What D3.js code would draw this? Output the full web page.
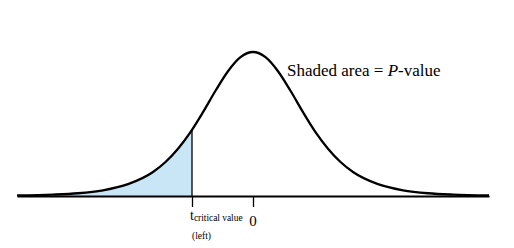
<!DOCTYPE html>
<html>
<head>
<meta charset="utf-8">
<script src="https://cdn.jsdelivr.net/npm/d3@7"></script>
<style>
  body { margin: 0; background: #fff; }
  svg { display: block; }
</style>
</head>
<body>
<div id="chart"></div>
<script>
// curve (t in sd units, density)
const tValues = [-4.72, -4, -3.5, -3, -2.5, -2, -1.75, -1.5, -1.25, -1, -0.75, -0.5, -0.25, 0,
                 0.25, 0.5, 0.75, 1, 1.25, 1.5, 1.75, 2, 2.5, 3, 3.5, 4, 4.72]
const density = [0.0015, 0.0038, 0.0075, 0.0155, 0.032, 0.065, 0.092, 0.128, 0.173, 0.227, 0.285, 0.338, 0.376, 0.39,
                 0.376, 0.338, 0.285, 0.227, 0.173, 0.128, 0.092, 0.065, 0.032, 0.0155, 0.0075, 0.0038, 0.0015]
const tCritical = -1.22
const densityAtCritical = 0.179
const tickValues = [tCritical, 0]
const annotation = ["Shaded area = ", "P", "-value"]

const serif = '"Liberation Serif", "Times New Roman", "DejaVu Serif", serif'
const width = 514, height = 248
const margin = ({ top: 52, right: 25, bottom: 52, left: 17 })

const curve = tValues.map((t, i) => ({ t: t, d: density[i] }))

const svg = d3.select('#chart')
    .append('svg')
    .attr('width', width)
    .attr('height', height)
    .attr('font-family', serif)

const x = d3.scaleLinear()
    .domain([-4.72, 4.72])
    .range([margin.left, width - margin.right])

const y = d3.scaleLinear()
    .domain([0, 0.39])
    .range([height - margin.bottom, margin.top])

// shaded left tail
const tail = curve.filter(d => d.t < tCritical)
    .concat([{ t: tCritical, d: densityAtCritical }])

svg.append('path')
    .datum(tail)
    .attr('fill', '#c8e6f6')
    .attr('d', d3.area()
        .x(d => x(d.t))
        .y0(y(0))
        .y1(d => y(d.d))
        .curve(d3.curveMonotoneX))

// axis with two ticks
const xAxis = g => g
    .attr('transform', `translate(0,${y(0)})`)
    .call(d3.axisBottom(x).tickValues(tickValues).tickSizeInner(11).tickSizeOuter(0).tickFormat(''))
    .call(g => g.select('.domain').attr('stroke-width', 2))
    .call(g => g.selectAll('.tick line').attr('stroke-width', 1.3))

svg.append('g')
    .call(xAxis)

// critical value line
svg.append('line')
    .attr('x1', x(tCritical))
    .attr('x2', x(tCritical))
    .attr('y1', y(0))
    .attr('y2', y(densityAtCritical))
    .attr('stroke', 'black')
    .attr('stroke-width', 1.3)

// the density curve
svg.append('path')
    .datum(curve)
    .attr('fill', 'none')
    .attr('stroke', 'black')
    .attr('stroke-width', 2.3)
    .attr('d', d3.line()
        .x(d => x(d.t))
        .y(d => y(d.d))
        .curve(d3.curveMonotoneX))

// tick labels
const tLabel = svg.append('text')
    .attr('x', x(tCritical) - 2)
    .attr('y', 220)
tLabel.append('tspan').attr('font-size', 14).text('t')
tLabel.append('tspan').attr('font-size', 9.4).attr('dy', 1).text('critical value')

svg.append('text')
    .attr('x', x(tCritical))
    .attr('y', 239)
    .attr('font-size', 9.5)
    .text('(left)')

svg.append('text')
    .attr('x', x(0))
    .attr('y', 226)
    .attr('text-anchor', 'middle')
    .attr('font-size', 15)
    .text('0')

// annotation
const note = svg.append('text')
    .attr('x', 287)
    .attr('y', 76)
    .attr('font-size', 17)
note.append('tspan').text(annotation[0])
note.append('tspan').attr('font-style', 'italic').text(annotation[1])
note.append('tspan').text(annotation[2])
</script>
</body>
</html>
